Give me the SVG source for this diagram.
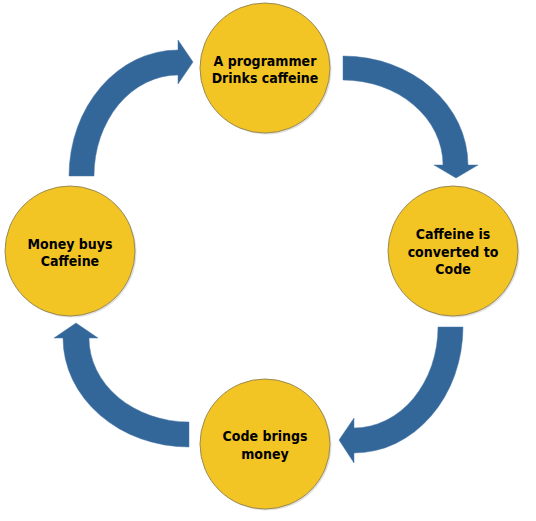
<svg xmlns="http://www.w3.org/2000/svg" width="536" height="521" viewBox="0 0 536 521">
<defs>
<style>
.node circle.c{fill:#F2C424;stroke:#9b8a52;stroke-width:1}
.node circle.s{fill:#000;opacity:0.12}
.node text{font-family:"DejaVu Sans Condensed","DejaVu Sans",sans-serif;font-stretch:condensed;font-weight:bold;font-size:14px;fill:#000;text-anchor:middle}
.arrow{fill:#336699;stroke:#4a78a8;stroke-width:0.5}
</style>
</defs>
<rect width="536" height="521" fill="#fff"/>
<g id="connectors">
<path class="arrow" d="M69,176 A109,126 0 0 1 178,50 L178,40 L193,62 L178,84 L178,75 A84,101 0 0 0 94,176 Z"/>
<path class="arrow" d="M343,56 A125,109 0 0 1 468,165 L478,165 L456,178 L434,165 L443,165 A100,85 0 0 0 343,80 Z"/>
<path class="arrow" d="M463,327 A109,126 0 0 1 354,453 L354,463 L339,440 L354,418 L354,428 A84,101 0 0 0 438,327 Z"/>
<path class="arrow" d="M189,447 A126,109 0 0 1 63,338 L54,338 L76,323 L98,338 L89,338 A100,84 0 0 0 189,422 Z"/>
</g>
<g id="node-top" class="node">
<circle class="s" cx="266.5" cy="69.5" r="65"/>
<circle class="c" cx="265" cy="68" r="65"/>
<text x="265" y="65.5">A programmer</text>
<text x="265" y="82.5">Drinks caffeine</text>
</g>
<g id="node-right" class="node">
<circle class="s" cx="454.5" cy="252.5" r="65"/>
<circle class="c" cx="453" cy="251" r="65"/>
<text x="453" y="239">Caffeine is</text>
<text x="453" y="256.5">converted to</text>
<text x="453" y="274">Code</text>
</g>
<g id="node-bottom" class="node">
<circle class="s" cx="266.5" cy="445.5" r="65"/>
<circle class="c" cx="265" cy="444" r="65"/>
<text x="265" y="441">Code brings</text>
<text x="265" y="458.5">money</text>
</g>
<g id="node-left" class="node">
<circle class="s" cx="71.5" cy="252.5" r="65"/>
<circle class="c" cx="70" cy="251" r="65"/>
<text x="70" y="248.5">Money buys</text>
<text x="70" y="266">Caffeine</text>
</g>
</svg>
